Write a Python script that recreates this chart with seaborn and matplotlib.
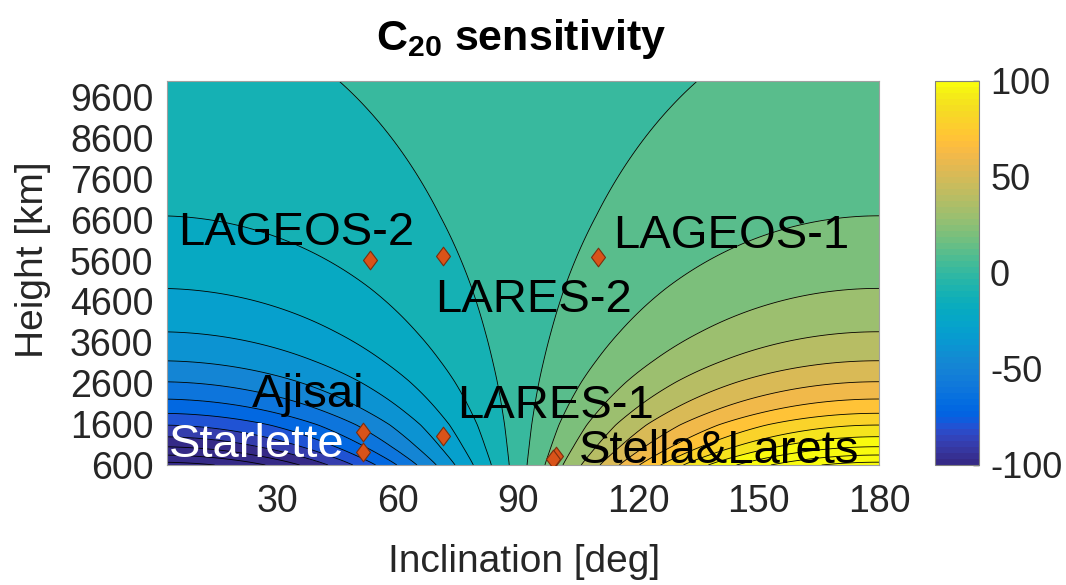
import numpy as np
import matplotlib
matplotlib.use("Agg")
import matplotlib.pyplot as plt
from matplotlib.colors import ListedColormap, Normalize
from matplotlib.cm import ScalarMappable
from matplotlib.path import Path
import seaborn as sns

# ---------------- data ----------------
# |C20 sensitivity| at inclination ~0 deg versus height (read from contour crossings)
profile_height_km = [600, 669, 844, 1047, 1292, 1578, 1865, 2214, 2637, 3150, 3859, 4920, 6695, 10000]
profile_value = [129, 125, 115, 105, 95, 85, 75, 65, 55, 45, 35, 25, 15, 7.1]

contour_levels = list(range(-135, 136, 10))
cbar_ticks = [-100, -50, 0, 50, 100]
x_ticks = [30, 60, 90, 120, 150, 180]
y_ticks = [600, 1600, 2600, 3600, 4600, 5600, 6600, 7600, 8600, 9600]

sat_names = ["LAGEOS-2", "LARES-2", "LAGEOS-1", "Ajisai", "Starlette", "LARES-1", "Stella", "Larets"]
sat_incl = [53.1, 71.2, 109.8, 51.2, 51.2, 71.2, 99.4, 98.7]
sat_height = [5612, 5710, 5693, 1400, 910, 1309, 820, 739]

label_text = ["LAGEOS-2", "LARES-2", "LAGEOS-1", "Ajisai", "Starlette", "LARES-1", "Stella&Larets"]
label_x = [5.1, 69.4, 113.6, 23.6, 2.9, 74.9, 105.1]
label_y = [5979, 4333, 5906, 2018, 796, 1742, 649]
label_color = ["black", "black", "black", "black", "white", "black", "black"]

R_EARTH = 6378.0

# ---------------- parula colormap ----------------
_parula = [
[0.2081,0.1663,0.5292],[0.2116,0.1898,0.5777],[0.2123,0.2138,0.6270],[0.2081,0.2386,0.6771],
[0.1959,0.2645,0.7279],[0.1707,0.2919,0.7792],[0.1253,0.3242,0.8303],[0.0591,0.3598,0.8683],
[0.0117,0.3875,0.8820],[0.0060,0.4086,0.8828],[0.0165,0.4266,0.8786],[0.0329,0.4430,0.8720],
[0.0498,0.4586,0.8641],[0.0629,0.4737,0.8554],[0.0723,0.4887,0.8467],[0.0779,0.5040,0.8384],
[0.0793,0.5200,0.8312],[0.0749,0.5375,0.8263],[0.0641,0.5570,0.8240],[0.0488,0.5772,0.8228],
[0.0343,0.5966,0.8199],[0.0265,0.6137,0.8135],[0.0239,0.6287,0.8038],[0.0231,0.6418,0.7913],
[0.0228,0.6535,0.7768],[0.0267,0.6642,0.7607],[0.0384,0.6743,0.7436],[0.0590,0.6838,0.7254],
[0.0843,0.6928,0.7062],[0.1133,0.7015,0.6859],[0.1453,0.7098,0.6646],[0.1801,0.7177,0.6424],
[0.2178,0.7250,0.6193],[0.2586,0.7317,0.5954],[0.3022,0.7376,0.5712],[0.3482,0.7424,0.5473],
[0.3953,0.7459,0.5244],[0.4420,0.7481,0.5033],[0.4871,0.7491,0.4840],[0.5300,0.7491,0.4661],
[0.5709,0.7485,0.4494],[0.6099,0.7473,0.4337],[0.6473,0.7456,0.4188],[0.6834,0.7435,0.4044],
[0.7184,0.7411,0.3905],[0.7525,0.7384,0.3768],[0.7858,0.7356,0.3633],[0.8185,0.7327,0.3498],
[0.8507,0.7299,0.3360],[0.8824,0.7274,0.3217],[0.9139,0.7258,0.3063],[0.9450,0.7261,0.2886],
[0.9739,0.7314,0.2666],[0.9938,0.7455,0.2403],[0.9990,0.7653,0.2164],[0.9955,0.7861,0.1967],
[0.9880,0.8066,0.1794],[0.9789,0.8271,0.1633],[0.9697,0.8481,0.1475],[0.9626,0.8705,0.1309],
[0.9589,0.8949,0.1132],[0.9598,0.9218,0.0948],[0.9661,0.9514,0.0755],[0.9763,0.9831,0.0538]]
parula = ListedColormap(_parula, name="parula")

# ---------------- field on a grid ----------------
incl = np.linspace(2.5, 180, 400)
height = np.linspace(600, 10000, 400)
amp = np.exp(np.interp(np.log(R_EARTH + height),
                       np.log(R_EARTH + np.array(profile_height_km)),
                       np.log(np.array(profile_value))))
I, H = np.meshgrid(incl, height)
Z = -amp[:, None] * np.cos(np.radians(I))

# ---------------- figure ----------------
sns.set_style("white")
plt.rcParams["font.family"] = ["Liberation Sans", "DejaVu Sans"]
plt.rcParams["mathtext.fontset"] = "custom"
plt.rcParams["mathtext.rm"] = "Liberation Sans"
plt.rcParams["mathtext.bf"] = "Liberation Sans:bold"
plt.rcParams["axes.unicode_minus"] = False

W, Hpx = 1066, 585
fig = plt.figure(figsize=(W / 100, Hpx / 100), dpi=100)
ax = fig.add_axes([167.3 / W, 1 - 465 / Hpx, (879 - 167.3) / W, (465 - 80.7) / Hpx])
cax = fig.add_axes([935 / W, 1 - 465 / Hpx, 44 / W, (465 - 81) / Hpx])

norm = Normalize(vmin=-100, vmax=100)
ax.contourf(I, H, Z, levels=contour_levels, cmap=parula, norm=norm)
ax.contour(I, H, Z, levels=contour_levels, colors="black", linewidths=0.6,
           linestyles="solid")

diamond = Path([(0, 1), (0.75, 0), (0, -1), (-0.75, 0), (0, 1)],
               [Path.MOVETO, Path.LINETO, Path.LINETO, Path.LINETO, Path.CLOSEPOLY])
sns.scatterplot(x=sat_incl, y=sat_height, marker=diamond, s=180, color="#D95319",
                edgecolor="#7A2E0E", linewidth=0.8, ax=ax, zorder=5, legend=False)

for t, x, y, c in zip(label_text, label_x, label_y, label_color):
    ax.text(x, y, t, color=c, fontsize=34, ha="left", va="baseline", zorder=6)

ax.set_xlim(2.5, 180)
ax.set_ylim(600, 10000)
ax.set_xticks(x_ticks)
ax.set_yticks(y_ticks)
ax.tick_params(axis="both", labelsize=27, colors="#262626", direction="in", length=0)
ax.tick_params(axis="x", pad=14)
ax.tick_params(axis="y", pad=10)
for sp in ax.spines.values():
    sp.set_color("#A0A0A0")
    sp.set_linewidth(0.8)

cb = fig.colorbar(ScalarMappable(norm=norm, cmap=parula), cax=cax, ticks=cbar_ticks)
cb.outline.set_edgecolor("#808080")
cb.outline.set_linewidth(0.8)
cax.tick_params(labelsize=26, colors="#262626", direction="in", length=4, width=1, pad=8)

fig.text(33 / W, 1 - 259.5 / Hpx, "Height [km]", rotation=90, ha="center", va="center",
         fontsize=28, color="#262626")
fig.text(524 / W, 1 - 562 / Hpx, "Inclination [deg]", ha="center", va="center",
         fontsize=28, color="#262626")
fig.text(521 / W, 1 - 50 / Hpx, r"$\mathbf{C}_{\mathbf{20}}$ sensitivity", ha="center",
         va="baseline", fontsize=31, fontweight="bold", color="black")

fig.savefig("out.png", dpi=100)
